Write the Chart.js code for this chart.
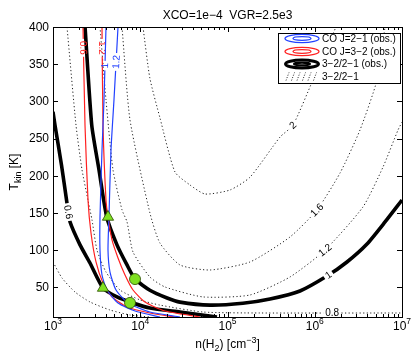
<!DOCTYPE html>
<html>
<head>
<meta charset="utf-8">
<script src="https://cdn.jsdelivr.net/npm/chart.js@4.4.0/dist/chart.umd.min.js"></script>
<style>
html,body{margin:0;padding:0;background:#fff}
</style>
</head>
<body>
<canvas id="c" width="415" height="359"></canvas>
<script>
// ticks
var xExp = [3, 4, 5, 6, 7];
var yTicks = [50, 100, 150, 200, 250, 300, 350, 400];

// model ratio 3-2/2-1 (dotted), [n(H2), Tkin]
var model04 = [[1000,84],[1268,62.5],[1787,43.6],[2655,30.2],[4500,19.4],[7630,12.7],[12900,10]];
var model08 = [[1447,400],[1835,268],[2150,208],[2520,167],[2800,140.5],[3194,100],[4050,70.5],[5860,46.3],[9930,33],[16800,26],[52400,16.7],[236000,15.4],[1e7,15.4]];
var model12 = [[3457,400],[4050,302],[4870,208],[6180,154],[7050,138],[8260,97.4],[12900,63.8],[19200,50.4],[52400,37],[181000,39.6],[520000,63.8],[1.31e6,100],[3.57e6,158],[6.06e6,211.7],[9.0e6,261.5],[1e7,272]];
var model16 = [[6180,400],[7630,275],[12900,150],[16800,109.5],[28500,80],[63000,73.2],[181000,84],[520000,117.6],[1.06e6,154],[1.95e6,203.7],[3.30e6,261.5],[5.17e6,328.7],[6.39e6,400]];
var model20 = [[10750,400],[12900,331],[16800,278],[25000,205],[37200,187.5],[55200,175.4],[106800,180.8],[181000,198],[400000,252],[563000,268],[955000,329],[1.75e6,400]];

// observed 3-2/2-1 range (thick black)
var obs06 = [[1000,286],[1054,268],[1251,214.5],[1447,163],[1566,138],[2040,107],[2655,82.6],[3743,49],[5413,37],[8260,28.8],[12900,22],[28500,16.7],[75800,10]];
var obs10 = [[2330,400],[2780,268],[3365,208],[4130,144.5],[5410,107],[7050,80],[8710,61],[12900,46],[20300,35.6],[28500,30],[63000,26],[150000,28.5],[306900,34.2],[677600,45],[1.38e6,65.1],[2.34e6,84],[3.97e6,108.2],[6.39e6,137.8],[1e7,167.3]];

// CO J=3-2 (red) and J=2-1 (blue) observed
var red06 = [[2207,400],[2327,268],[2520,167],[2726,123],[3111,84],[3743,55.7],[4746,37],[7050,23.5],[12900,15.4],[25000,10]];
var red12 = [[3644,400],[3743,268],[4050,167],[4270,144.5],[4746,113.6],[5560,89.4],[6690,66.5],[8260,46.3],[11330,30.2],[19200,18.1],[48400,10]];
var blue10 = [[4050,400],[3842,302],[3644,234.6],[3457,144.5],[3457,100],[3644,66.5],[4160,46.3],[5560,28.8],[8710,18.1],[16800,10]];
var blue12 = [[5560,400],[5000,302],[4620,234.6],[4380,144.5],[4270,100],[4500,70.5],[5274,46.3],[7240,28.8],[12900,16.7],[28500,10]];

// solutions
var triN = [4270, 3743], triT = [144.5, 49];
var circN = [8710, 7630], circT = [61, 29];

var legendLabels = ['CO J=2\u22121 (obs.)', 'CO J=3\u22122 (obs.)', '3\u22122/2\u22121 (obs.)', '3\u22122/2\u22121'];

// contour labels: text, curve, approx position
var clabels = [
  {text:'0.6', set:'red06', n:2150, T:372},
  {text:'1.2', set:'red12', n:3645, T:372},
  {text:'1', set:'blue10', n:3945, T:348},
  {text:'1.2', set:'blue12', n:5273, T:353},
  {text:'0.6', set:'obs06', n:1486, T:151},
  {text:'1', set:'obs10', n:1.42e6, T:67},
  {text:'0.8', set:'model08', n:1.58e6, T:15.4},
  {text:'1.2', set:'model12', n:1.31e6, T:100},
  {text:'1.6', set:'model16', n:1.06e6, T:154},
  {text:'2', set:'model20', n:5.6e5, T:268}
];

var FONT = '"Liberation Sans", Arial, sans-serif';

function pts(a){ return a.map(function(p){ return {x:p[0], y:p[1]}; }); }
function curve(name, arr, color, width, dash){
  return {label:name, data:pts(arr), showLine:true, borderColor:color, backgroundColor:color,
    borderWidth:width, borderDash:dash || [], pointRadius:0, pointHoverRadius:0, tension:0.2, clip:0};
}

var dotted = [1.2, 2.4];
var datasets = [
  {label:'tri', data:triN.map(function(n,i){return {x:n,y:triT[i]};}), pointStyle:'triangle', pointRadius:6.5,
    backgroundColor:'#7fe021', borderColor:'#2a4a00', borderWidth:0.8, showLine:false},
  {label:'circ', data:circN.map(function(n,i){return {x:n,y:circT[i]};}), pointStyle:'circle', pointRadius:5.5,
    backgroundColor:'#7fe021', borderColor:'#2a4a00', borderWidth:0.8, showLine:false},
  curve('blue12', blue12, '#2241ff', 1.2),
  curve('blue10', blue10, '#2241ff', 1.2),
  curve('red12', red12, '#ff2020', 1.2),
  curve('red06', red06, '#ff2020', 1.2),
  curve('obs10', obs10, '#000', 3.6),
  curve('obs06', obs06, '#000', 3.6),
  curve('model04', model04, '#222', 1, dotted),
  curve('model08', model08, '#222', 1, dotted),
  curve('model12', model12, '#222', 1, dotted),
  curve('model16', model16, '#222', 1, dotted),
  curve('model20', model20, '#222', 1, dotted)
];

// place labels on their curves, with MATLAB-like inline gaps
function placeLabels(chart, ds){
  var xs = chart.scales.x, ys = chart.scales.y;
  var out = [];
  clabels.forEach(function(l){
    if (l.set !== ds.label) return;
    var px = xs.getPixelForValue(l.n), py = ys.getPixelForValue(l.T);
    var best = null;
    for (var i = 0; i < ds.data.length - 1; i++){
      var ax = xs.getPixelForValue(ds.data[i].x), ay = ys.getPixelForValue(ds.data[i].y);
      var bx = xs.getPixelForValue(ds.data[i+1].x), by = ys.getPixelForValue(ds.data[i+1].y);
      var dx = bx-ax, dy = by-ay, L = dx*dx+dy*dy;
      var t = L ? Math.max(0, Math.min(1, ((px-ax)*dx+(py-ay)*dy)/L)) : 0;
      var qx = ax+t*dx, qy = ay+t*dy, d = (qx-px)*(qx-px)+(qy-py)*(qy-py);
      if (!best || d < best.d) best = {d:d, x:qx, y:qy, a:Math.atan2(dy,dx)};
    }
    var a = best.a;
    if (a > Math.PI/2) a -= Math.PI;
    if (a <= -Math.PI/2) a += Math.PI;
    out.push({text:l.text, x:best.x, y:best.y, a:a, color:ds.borderColor});
  });
  return out;
}

var labelPlugin = {
  id:'clabels',
  beforeDatasetDraw: function(chart, args){
    var ds = chart.data.datasets[args.index];
    var labs = placeLabels(chart, ds);
    ds._labs = labs;
    if (!labs.length) return;
    var ctx = chart.ctx;
    ctx.save();
    ctx.font = '10px ' + FONT;
    ctx.beginPath();
    ctx.rect(0, 0, chart.width, chart.height);
    labs.forEach(function(l){
      var w = ctx.measureText(l.text).width/2 + 2, h = 4;
      var c = Math.cos(l.a), s = Math.sin(l.a);
      var corners = [[-w,-h],[w,-h],[w,h],[-w,h]].map(function(p){
        return [l.x + p[0]*c - p[1]*s, l.y + p[0]*s + p[1]*c];
      });
      ctx.moveTo(corners[0][0], corners[0][1]);
      for (var k = 1; k < 4; k++) ctx.lineTo(corners[k][0], corners[k][1]);
      ctx.closePath();
    });
    ctx.clip('evenodd');
  },
  afterDatasetDraw: function(chart, args){
    var ds = chart.data.datasets[args.index];
    var labs = ds._labs || [];
    if (!labs.length) return;
    var ctx = chart.ctx;
    ctx.restore();
    ctx.save();
    ctx.font = '10px ' + FONT;
    ctx.textAlign = 'center';
    ctx.textBaseline = 'middle';
    labs.forEach(function(l){
      ctx.save();
      ctx.translate(l.x, l.y);
      ctx.rotate(l.a);
      ctx.fillStyle = l.color === '#222' ? '#000' : l.color;
      ctx.fillText(l.text, 0, 0.5);
      ctx.restore();
    });
    ctx.restore();
  }
};

function drawRich(ctx, parts, x, y, align){
  // parts: [text, size, dy]
  var total = 0;
  parts.forEach(function(p){ ctx.font = p[1] + 'px ' + FONT; p.w = ctx.measureText(p[0]).width; total += p.w; });
  var cx = align === 'center' ? x - total/2 : x;
  ctx.textAlign = 'left';
  parts.forEach(function(p){
    ctx.font = p[1] + 'px ' + FONT;
    ctx.fillText(p[0], cx, y + p[2]);
    cx += p.w;
  });
}

var framePlugin = {
  id:'frame',
  afterDraw: function(chart){
    var ctx = chart.ctx, a = chart.chartArea, xs = chart.scales.x, ys = chart.scales.y;
    ctx.save();
    ctx.strokeStyle = '#000';
    ctx.lineWidth = 1;
    ctx.strokeRect(Math.round(a.left)+0.5, Math.round(a.top)+0.5, Math.round(a.right-a.left), Math.round(a.bottom-a.top));

    ctx.beginPath();
    xExp.forEach(function(e, i){
      var px = Math.round(xs.getPixelForValue(Math.pow(10, e))) + 0.5;
      ctx.moveTo(px, a.bottom); ctx.lineTo(px, a.bottom - 5);
      ctx.moveTo(px, a.top); ctx.lineTo(px, a.top + 5);
      if (i < xExp.length - 1){
        for (var m = 2; m <= 9; m++){
          var q = Math.round(xs.getPixelForValue(m*Math.pow(10, e))) + 0.5;
          ctx.moveTo(q, a.bottom); ctx.lineTo(q, a.bottom - 3);
          ctx.moveTo(q, a.top); ctx.lineTo(q, a.top + 3);
        }
      }
    });
    yTicks.forEach(function(v){
      var py = Math.round(ys.getPixelForValue(v)) + 0.5;
      ctx.moveTo(a.left, py); ctx.lineTo(a.left + 5, py);
      ctx.moveTo(a.right, py); ctx.lineTo(a.right - 5, py);
    });
    ctx.stroke();

    ctx.fillStyle = '#000';
    ctx.textBaseline = 'alphabetic';
    xExp.forEach(function(e){
      var px = xs.getPixelForValue(Math.pow(10, e));
      drawRich(ctx, [['10', 12, 0], [String(e), 8.5, -6]], px, a.bottom + 13, 'center');
    });
    ctx.font = '12px ' + FONT;
    ctx.textAlign = 'right';
    ctx.textBaseline = 'middle';
    yTicks.forEach(function(v){
      ctx.fillText(String(v), a.left - 4, ys.getPixelForValue(v) + 0.5);
    });

    // axis titles and title
    ctx.textBaseline = 'alphabetic';
    drawRich(ctx, [['n(H', 12, 0], ['2', 9, 3], [') [cm', 12, 0], ['\u22123', 9, -5], [']', 12, 0]], (a.left + a.right)/2, 348, 'center');
    ctx.save();
    ctx.translate(18, (a.top + a.bottom)/2);
    ctx.rotate(-Math.PI/2);
    drawRich(ctx, [['T', 12, 0], ['kin', 9, 3], [' [K]', 12, 0]], 0, 0, 'center');
    ctx.restore();
    ctx.font = '12px ' + FONT;
    ctx.textAlign = 'center';
    ctx.fillText('XCO=1e\u22124  VGR=2.5e3', (a.left + a.right)/2, 19);

    // legend
    var lx = 278, ly = 33, lw = 122, lh = 50;
    ctx.fillStyle = '#fff';
    ctx.fillRect(lx, ly, lw, lh);
    ctx.strokeStyle = '#000';
    ctx.lineWidth = 1;
    ctx.strokeRect(lx + 0.5, ly + 0.5, lw, lh);
    var rowY = [38.5, 51.5, 64, 76.5], cx = 302;
    var cols = ['#2241ff', '#ff2020', '#000', '#222'];
    rowY.forEach(function(ry, i){
      ctx.save();
      ctx.strokeStyle = cols[i];
      if (i < 2){
        ctx.lineWidth = 1.3;
        ctx.beginPath(); ctx.ellipse(cx, ry, 17, 4.2, 0, 0, 2*Math.PI); ctx.stroke();
        ctx.beginPath(); ctx.ellipse(cx, ry, 9, 1.8, 0, 0, 2*Math.PI); ctx.stroke();
      } else if (i === 2){
        ctx.lineWidth = 3;
        ctx.beginPath(); ctx.ellipse(cx, ry, 16.5, 4, 0, 0, 2*Math.PI); ctx.stroke();
        ctx.lineWidth = 2.2;
        ctx.beginPath(); ctx.ellipse(cx, ry, 8, 1.3, 0, 0, 2*Math.PI); ctx.stroke();
      } else {
        ctx.lineWidth = 1;
        ctx.setLineDash([1, 1.6]);
        ctx.beginPath();
        for (var k = 0; k < 6; k++){
          var x0 = 286 + k*5.5;
          ctx.moveTo(x0, ry + 4); ctx.lineTo(x0 + 3, ry - 4);
        }
        ctx.stroke();
      }
      ctx.restore();
      ctx.fillStyle = '#000';
      ctx.font = '10px ' + FONT;
      ctx.textAlign = 'left';
      ctx.textBaseline = 'middle';
      ctx.fillText(legendLabels[i], 322, ry + 0.5);
    });
    ctx.restore();
  }
};

new Chart(document.getElementById('c').getContext('2d'), {
  type:'scatter',
  data:{datasets:datasets},
  options:{
    responsive:false,
    animation:false,
    events:[],
    layout:{padding:{left:53, right:13, top:27, bottom:42}},
    scales:{
      x:{type:'logarithmic', min:1e3, max:1e7, display:false},
      y:{type:'linear', min:10, max:400, display:false}
    },
    plugins:{legend:{display:false}, tooltip:{enabled:false}}
  },
  plugins:[labelPlugin, framePlugin]
});
</script>
</body>
</html>
